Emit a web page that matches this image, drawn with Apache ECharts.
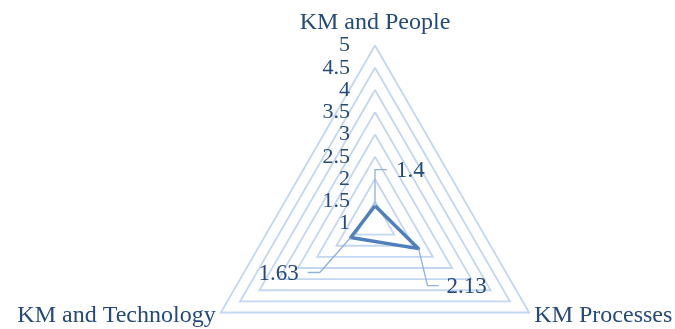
<!DOCTYPE html>
<html>
<head>
<meta charset="utf-8">
<script src="https://cdn.jsdelivr.net/npm/echarts@6/dist/echarts.min.js"></script>
<style>
  html, body { margin: 0; padding: 0; background: #fff; }
  #chart { width: 675px; height: 329px; }
</style>
</head>
<body>
<div id="chart"></div>
<script>
// Radar indicators, listed in ECharts' counter-clockwise order from the top
const indicatorNames = ['KM and People', 'KM and Technology', 'KM Processes'];
const scores = [1.4, 1.63, 2.13];
const scaleMin = 1;
const scaleMax = 5;
const scaleSplits = 8;

const textColor = '#254a7a';
const serif = '"Liberation Serif", "Times New Roman", serif';

// Callout geometry for each value label: elbow leader line + text anchor (pixels from the vertex)
const callouts = [
  { path: [[0, 0], [0, -36], [12, -36]], text: [21, -35], align: 'left' },
  { path: [[0, 0], [-31, 35], [-43, 35]], text: [-52, 36], align: 'right' },
  { path: [[0, 0], [9, 37], [20, 37]], text: [28, 38], align: 'left' }
];

const chart = echarts.init(document.getElementById('chart'), null, { renderer: 'canvas' });

chart.setOption({
  animation: false,
  backgroundColor: '#ffffff',
  radar: {
    center: [375, 223.5],
    radius: 178,
    startAngle: 90,
    splitNumber: scaleSplits,
    shape: 'polygon',
    indicator: indicatorNames.map((name, i) => ({
      name: name,
      min: scaleMin,
      max: scaleMax,
      axisLabel: i === 0 ? {
        show: true,
        color: textColor,
        fontFamily: serif,
        fontSize: 22,
        margin: 25
      } : { show: false }
    })),
    axisName: {
      color: textColor,
      fontFamily: serif,
      fontSize: 24
    },
    nameGap: 6,
    axisLine: { show: false },
    axisTick: { show: false },
    splitArea: { show: false },
    splitLine: { lineStyle: { color: '#c4d7f0', width: 1.8 } }
  },
  series: [{
    type: 'radar',
    symbol: 'none',
    lineStyle: { color: '#4f7fbc', width: 3.5 },
    data: [{ value: scores, name: 'Score' }]
  }]
});

// Value callouts placed at each vertex through the radar's own scale
const radarCoord = chart.getModel().getComponent('radar').coordinateSystem;
const callGraphics = [];
scores.forEach((v, i) => {
  const p = radarCoord.dataToPoint(v, i);
  const c = callouts[i];
  callGraphics.push({
    type: 'polyline',
    shape: { points: c.path.map(q => [p[0] + q[0], p[1] + q[1]]) },
    style: { stroke: '#8fb2dd', lineWidth: 1.3, fill: null },
    z: 5
  });
  callGraphics.push({
    type: 'text',
    x: p[0] + c.text[0],
    y: p[1] + c.text[1],
    style: {
      text: String(v),
      fill: textColor,
      font: '23px ' + serif,
      textAlign: c.align,
      textVerticalAlign: 'middle'
    },
    z: 6
  });
});
chart.setOption({ graphic: callGraphics });
</script>
</body>
</html>
